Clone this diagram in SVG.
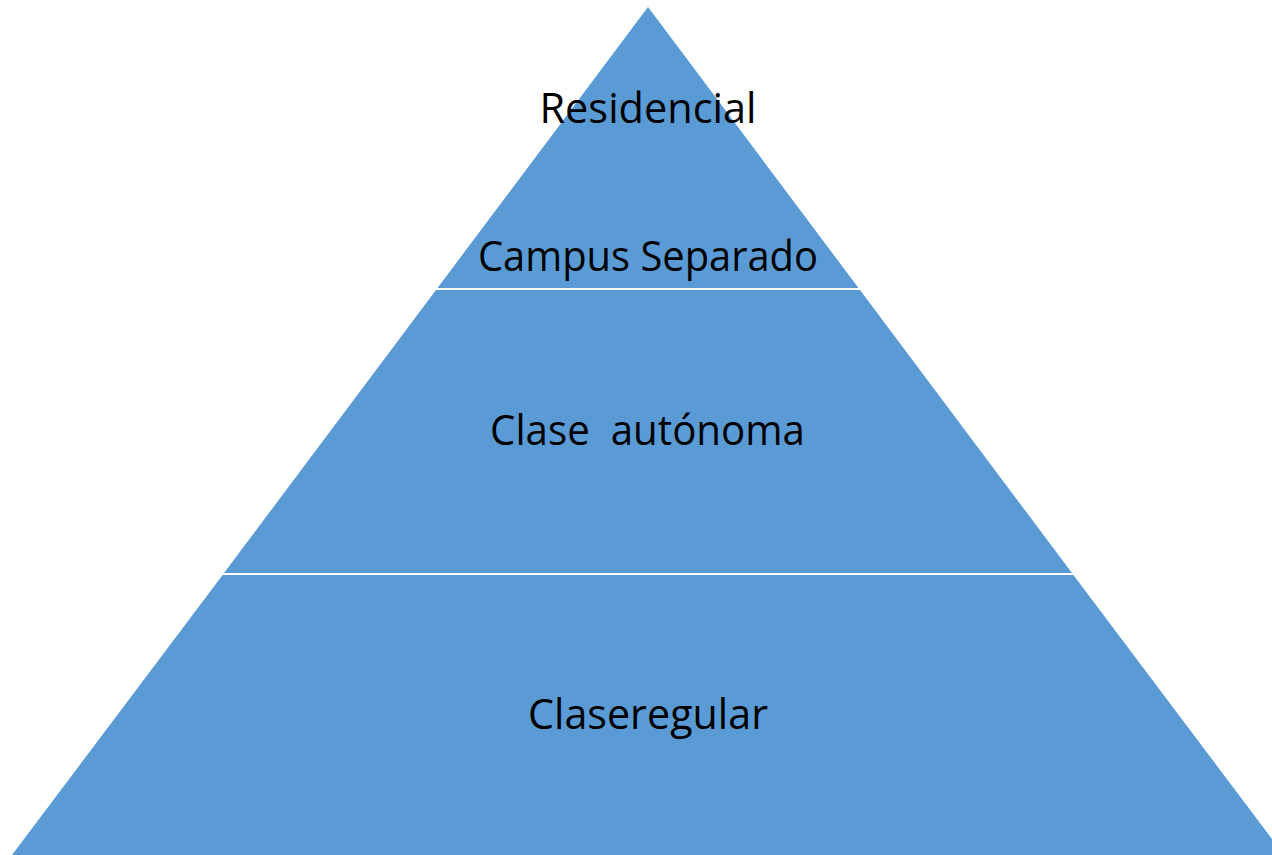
<svg xmlns="http://www.w3.org/2000/svg" width="1272" height="855" viewBox="0 0 1272 855">
<style>
.seg{fill:#5B9BD5;stroke:none}
.lbl{font-family:"Open Sans","Liberation Sans",sans-serif;font-size:42px;fill:#000;text-anchor:middle}
</style>
<rect width="1272" height="855" fill="#fff"/>
<g id="residencial">
<polygon class="seg" points="648,7 858.5,288 437.5,288"/>
<text class="lbl" x="648" y="123" textLength="217" lengthAdjust="spacingAndGlyphs">Residencial</text>
<text class="lbl" x="648" y="271" textLength="340" lengthAdjust="spacingAndGlyphs">Campus Separado</text>
</g>
<g id="clase-autonoma">
<polygon class="seg" points="436,290 860,290 1072,573 224,573"/>
<text class="lbl" x="647.5" y="445" textLength="315" lengthAdjust="spacingAndGlyphs" xml:space="preserve">Clase  autónoma</text>
</g>
<g id="clase-regular">
<polygon class="seg" points="222.6,575 1073.4,575 1284,855 12,855"/>
<text class="lbl" x="648" y="729" textLength="240" lengthAdjust="spacingAndGlyphs">Claseregular</text>
</g>
<g id="connectors"></g>
</svg>
